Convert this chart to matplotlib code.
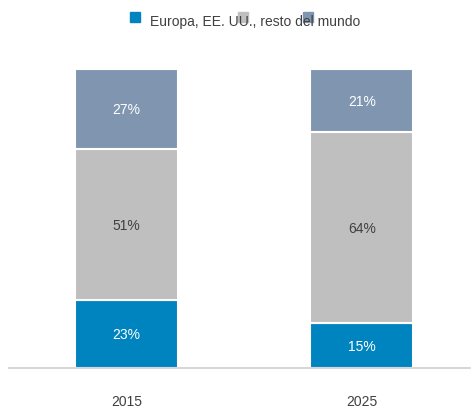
import numpy as np
import matplotlib.pyplot as plt
from matplotlib.patches import Rectangle

plt.rcParams['font.family'] = ['Liberation Sans', 'DejaVu Sans']

years = ['2015', '2025']
europa = [23, 15]
eeuu = [51, 64]
resto = [27, 21]
legend_labels = ['Europa, EE. UU., resto del mundo', '', '']

colors = ['#0084BF', '#BFBFBF', '#8096B0']
text_colors = ['white', '#404040', 'white']
dark = '#404040'

fig = plt.figure(figsize=(4.77, 4.08), dpi=100)
ax = fig.add_axes([9 / 477, 1 - 368 / 408, 461 / 477, 299 / 408 * 1.1])

# stacked as share of each year's total (labels keep rounded values)
series = np.array([europa, eeuu, resto], dtype=float)
shares = series / series.sum(axis=0) * 100

x = np.arange(len(years))
bottom = np.zeros(len(years))
for vals, share, c, tc in zip(series, shares, colors, text_colors):
    ax.bar(x, share, width=0.437, bottom=bottom, color=c, edgecolor='white', linewidth=1.5)
    for xi, b, v, s in zip(x, bottom, vals, share):
        ax.text(xi, b + s / 2, f'{v:.0f}%', ha='center', va='center_baseline',
                color=tc, fontsize=10)
    bottom += share

ax.set_xlim(-0.499, 1.46)
ax.set_ylim(0, 110)
ax.set_xticks(x)
ax.set_xticklabels(years, color=dark, fontsize=10)
ax.tick_params(axis='x', length=0, pad=19.5)
ax.set_yticks([])
for s in ['top', 'right', 'left']:
    ax.spines[s].set_visible(False)
ax.spines['bottom'].set_color('#D0D0D0')
ax.spines['bottom'].set_linewidth(1.2)

# legend: squares at fixed spots, the only label overlaps the others
sq_x = [130, 238, 303]
for px, c in zip(sq_x, colors):
    fig.patches.append(Rectangle((px / 477, 1 - 22 / 408), 10 / 477, 10 / 408,
                                 transform=fig.transFigure, color=c, figure=fig, zorder=0))
fig.text(150 / 477, 1 - 22 / 408, legend_labels[0], color=dark, fontsize=10,
         ha='left', va='center', zorder=5)

fig.savefig('out.png', dpi=100, facecolor='white')
